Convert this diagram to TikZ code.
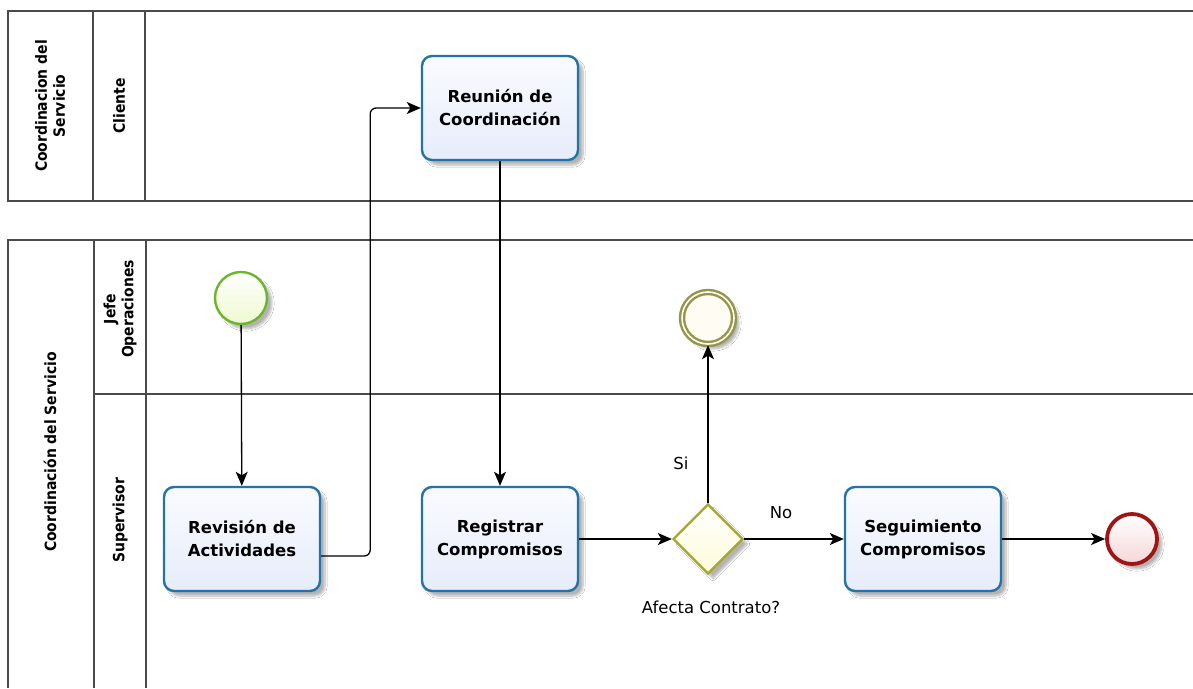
\documentclass[tikz,border=0pt]{standalone}
\usepackage{fontspec}
\setmainfont{DejaVu Sans Condensed}
\newfontfamily\widefont{DejaVu Sans}
\usetikzlibrary{arrows.meta,shapes.geometric,shadows.blur}

\definecolor{poolline}{HTML}{4A4A4A}
\definecolor{taskline}{HTML}{2373A8}
\definecolor{tasktop}{HTML}{FAFBFF}
\definecolor{taskbot}{HTML}{E6ECFA}
\definecolor{startline}{HTML}{6DB52A}
\definecolor{startfill}{HTML}{EEF9CF}
\definecolor{olive}{HTML}{959545}
\definecolor{interfill}{HTML}{FFFCF4}
\definecolor{gateline}{HTML}{A6A630}
\definecolor{gatefill}{HTML}{FDFBD8}
\definecolor{endline}{HTML}{A01414}
\definecolor{endfill}{HTML}{F5D6D6}

\tikzset{
  poolstroke/.style={draw=poolline, line width=1.4pt},
  lanetitle/.style={rotate=90, font=\bfseries\fontsize{15.5}{18}\selectfont, align=center},
  softshadow/.style={blur shadow={shadow xshift=5pt, shadow yshift=-5pt, shadow opacity=30, shadow blur steps=8}},
  task/.style={rectangle, rounded corners=10pt, draw=taskline, line width=2.4pt,
    minimum width=156pt, minimum height=104pt, top color=tasktop, bottom color=taskbot,
    align=center, font=\widefont\bfseries\fontsize{16.5}{23}\selectfont, softshadow},
  startev/.style={circle, draw=startline, line width=2.4pt, minimum size=52pt, inner sep=0pt,
    top color=white, bottom color=startfill, softshadow},
  interev/.style={circle, draw=olive, double=white, double distance=1.6pt, line width=2.4pt,
    minimum size=52pt, inner sep=0pt, fill=interfill, softshadow},
  endev/.style={circle, draw=endline, line width=3.8pt, minimum size=50pt, inner sep=0pt,
    top color=white, bottom color=endfill, softshadow},
  gateway/.style={diamond, aspect=1, draw=gateline, line width=2.4pt, minimum width=70pt,
    minimum height=70pt, inner sep=0pt, top color=white, bottom color=gatefill, softshadow},
  flow/.style={draw=black, line width=1.3pt, -{Stealth[length=14pt, width=12pt, inset=3.5pt]}},
  flowlabel/.style={font=\widefont\fontsize{16.5}{19}\selectfont}
}

\begin{document}
\begin{tikzpicture}[x=1pt, y=-1pt]
\useasboundingbox (0,0) rectangle (1193,688);
\fill[white] (0,0) rectangle (1193,688);

% upper pool with the client lane
\draw[poolstroke] (1193,11) -- (8,11) -- (8,201) -- (1193,201);
\draw[poolstroke] (93,11) -- (93,201);
\draw[poolstroke] (145,11) -- (145,201);
\node[lanetitle] (pool1) at (50,106) {Coordinacion del\\Servicio};
\node[lanetitle] (lane1) at (119,106) {Cliente};

% lower pool with two lanes
\draw[poolstroke] (1193,240) -- (8,240) -- (8,688);
\draw[poolstroke] (94,240) -- (94,688);
\draw[poolstroke] (146,240) -- (146,688);
\draw[poolstroke] (94,394) -- (1193,394);
\node[lanetitle] (pool2) at (50,452) {Coordinación del Servicio};
\node[lanetitle] (lane2) at (120,309) {Jefe\\Operaciones};
\node[lanetitle] (lane3) at (120,520) {Supervisor};

% flow elements
\node[startev] (start) at (241,298) {};
\node[task] (rev) at (242,539) {Revisión de\\Actividades};
\node[task] (reu) at (500,108) {Reunión de\\Coordinación};
\node[task] (reg) at (500,539) {Registrar\\Compromisos};
\node[gateway] (gw) at (708,539) {};
\node[interev] (inter) at (708,318) {};
\node[task] (seg) at (923,539) {Seguimiento\\Compromisos};
\node[endev] (fin) at (1132,539) {};

% labels
\node[flowlabel] (gwlabel) at (711,607) {Afecta Contrato?};
\node[flowlabel] (silabel) at (681,463) {Si};
\node[flowlabel] (nolabel) at (781,513) {No};

% sequence flows
\draw[flow] (start) -- (rev);
\draw[flow, rounded corners=6pt] ([yshift=-17pt]rev.east) -- ++(49,0) |- (reu.west);
\draw[flow] (reu) -- (reg);
\draw[flow] (reg) -- (gw);
\draw[flow] (gw.north) -- (inter.south);
\draw[flow] (gw.east) -- (seg.west);
\draw[flow] (seg) -- (fin);
\end{tikzpicture}
\end{document}
